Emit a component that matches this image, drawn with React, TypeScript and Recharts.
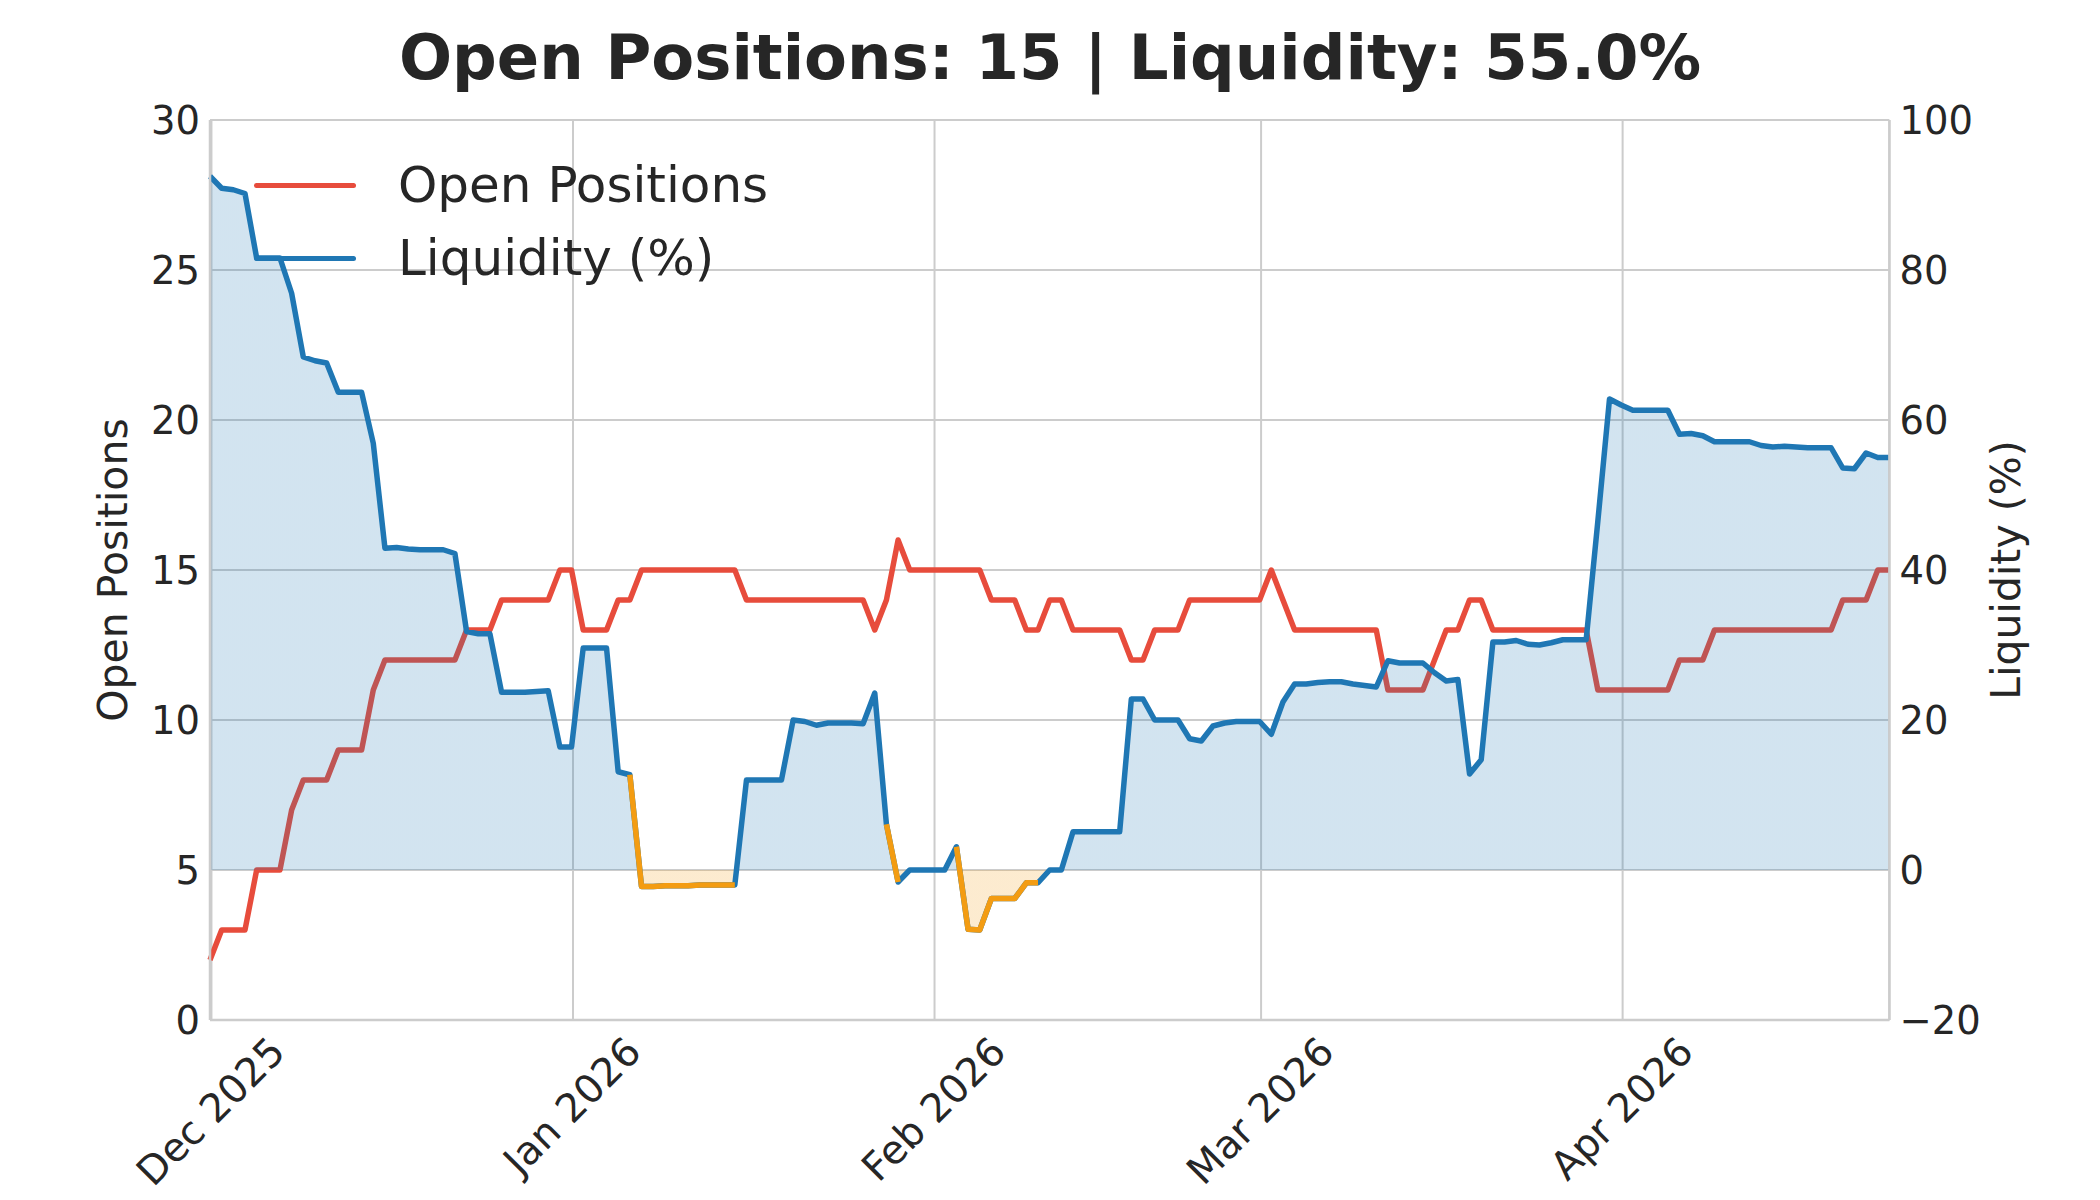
import React from 'react';
import { Area, CartesianGrid, ComposedChart, Legend, Line, XAxis, YAxis } from 'recharts';

const FONT = '"DejaVu Sans", "Liberation Sans", sans-serif';
const INK = '#262626';
const GRID = '#cccccc';
const RED = '#e74c3c';
const BLUE = '#1f77b4';
const ORANGE = '#f39c12';
const TICK_SIZE = 38.5;
const MONTH_TICK_SIZE = 39.5;

// one snapshot a day (21:00 UTC), 30 Nov 2025 -> 23 Apr 2026
const FIRST_SNAPSHOT = Date.UTC(2025, 10, 30, 21);
const DAY_MS = 86400000;

const openPositions = [
  2, 3, 3, 3, 5, 5, 5, 7, 8, 8, 8, 9, 9, 9, 11, 12, 12, 12, 12, 12,
  12, 12, 13, 13, 13, 14, 14, 14, 14, 14, 15, 15, 13, 13, 13, 14, 14, 15, 15, 15,
  15, 15, 15, 15, 15, 15, 14, 14, 14, 14, 14, 14, 14, 14, 14, 14, 14, 13, 14, 16,
  15, 15, 15, 15, 15, 15, 15, 14, 14, 14, 13, 13, 14, 14, 13, 13, 13, 13, 13, 12,
  12, 13, 13, 13, 14, 14, 14, 14, 14, 14, 14, 15, 14, 13, 13, 13, 13, 13, 13, 13,
  13, 11, 11, 11, 11, 12, 13, 13, 14, 14, 13, 13, 13, 13, 13, 13, 13, 13, 13, 11,
  11, 11, 11, 11, 11, 11, 12, 12, 12, 13, 13, 13, 13, 13, 13, 13, 13, 13, 13, 13,
  14, 14, 14, 15, 15,
];

const liquidity = [
  92.5, 90.9, 90.7, 90.2, 81.6, 81.6, 81.6, 76.9, 68.4, 67.9, 67.6, 63.7, 63.7, 63.7, 56.9, 42.9, 43.0, 42.8, 42.7, 42.7,
  42.7, 42.2, 31.8, 31.5, 31.5, 23.7, 23.7, 23.7, 23.8, 23.9, 16.4, 16.4, 29.6, 29.6, 29.6, 13.1, 12.7, -2.2, -2.2, -2.1,
  -2.1, -2.1, -2.0, -2.0, -2.0, -2.0, 12.0, 12.0, 12.0, 12.0, 20.0, 19.8, 19.3, 19.6, 19.6, 19.6, 19.5, 23.6, 6.1, -1.6,
  0.0, 0.0, 0.0, 0.0, 3.1, -7.9, -8.0, -3.8, -3.8, -3.8, -1.7, -1.7, 0.0, 0.0, 5.1, 5.1, 5.1, 5.1, 5.1, 22.8,
  22.8, 20.0, 20.0, 20.0, 17.5, 17.2, 19.2, 19.6, 19.8, 19.8, 19.8, 18.1, 22.4, 24.8, 24.8, 25.0, 25.1, 25.1, 24.8, 24.6,
  24.4, 27.9, 27.6, 27.6, 27.6, 26.3, 25.2, 25.4, 12.8, 14.7, 30.4, 30.4, 30.6, 30.1, 30.0, 30.3, 30.7, 30.7, 30.7, 46.5,
  62.8, 62.0, 61.3, 61.3, 61.3, 61.3, 58.1, 58.2, 57.9, 57.1, 57.1, 57.1, 57.1, 56.6, 56.4, 56.5, 56.4, 56.3, 56.3, 56.3,
  53.6, 53.5, 55.6, 55.0, 55.0,
];

const monthTicks = [
  Date.UTC(2025, 11, 1),
  Date.UTC(2026, 0, 1),
  Date.UTC(2026, 1, 1),
  Date.UTC(2026, 2, 1),
  Date.UTC(2026, 3, 1),
];
const monthLabels = ['Dec 2025', 'Jan 2026', 'Feb 2026', 'Mar 2026', 'Apr 2026'];
const positionTicks = [0, 5, 10, 15, 20, 25, 30];
const liquidityTicks = [-20, 0, 20, 40, 60, 80, 100];
const legendOrder = ['Open Positions', 'Liquidity (%)'];

// a segment is drawn orange when the day it ends on is below zero
const data = liquidity.map((liq, i) => ({
  t: FIRST_SNAPSHOT + i * DAY_MS,
  positions: openPositions[i],
  liquidity: liq,
  shortfall: liq < 0 || (liquidity[i + 1] ?? 0) < 0 ? liq : null,
}));

const liqMax = Math.max(...liquidity);
const liqMin = Math.min(...liquidity, 0);
const zeroOffset = liqMax / (liqMax - liqMin);

const lastPositions = openPositions[openPositions.length - 1];
const lastLiquidity = liquidity[liquidity.length - 1];

const fmtSigned = (v: number) => (v < 0 ? `\u2212${Math.abs(v)}` : `${v}`);

let measureCtx: CanvasRenderingContext2D | null = null;
function textWidth(s: string, size: number) {
  if (!measureCtx) measureCtx = document.createElement('canvas').getContext('2d');
  if (!measureCtx) return s.length * size * 0.6;
  measureCtx.font = `${size}px "DejaVu Sans"`;
  return measureCtx.measureText(s).width;
}

// matplotlib-style rotated label: the rotated box is centred under the tick
function MonthTick(props: any) {
  const { x, y, payload } = props;
  const idx = monthTicks.indexOf(payload.value);
  const label = idx >= 0 ? monthLabels[idx] : '';
  const w = textWidth(label, MONTH_TICK_SIZE);
  const half = ((w + 32) * Math.SQRT1_2) / 2;
  return (
    <text
      transform={`translate(${x - 1},${y + 13 + half}) rotate(-45)`}
      textAnchor="middle"
      dy="0.35em"
      fontSize={MONTH_TICK_SIZE}
      fontFamily={FONT}
      fill={INK}
    >
      {label}
    </text>
  );
}

const axisTitle = (offset: number) => (props: any) => {
  const { viewBox, value } = props;
  const cx = viewBox.x + offset;
  const cy = viewBox.y + viewBox.height / 2;
  return (
    <text
      x={cx}
      y={cy}
      transform={`rotate(-90, ${cx}, ${cy})`}
      textAnchor="middle"
      fontSize={41}
      fontFamily={FONT}
      fill={INK}
    >
      {value}
    </text>
  );
};

function LegendBox({ payload }: any) {
  const items = (payload || [])
    .filter((p: any) => p.type !== 'none' && legendOrder.includes(p.value))
    .sort((a: any, b: any) => legendOrder.indexOf(a.value) - legendOrder.indexOf(b.value));
  return (
    <div style={{ fontFamily: FONT, color: INK }}>
      {items.map((p: any) => (
        <div key={p.value} style={{ display: 'flex', alignItems: 'center', height: 73 }}>
          <div style={{ width: 102, height: 5.5, borderRadius: 2.75, background: p.color, marginRight: 42 }} />
          <span style={{ fontSize: 50, lineHeight: '73px', whiteSpace: 'nowrap' }}>{p.value}</span>
        </div>
      ))}
    </div>
  );
}

export default function App() {
  return (
    <div style={{ position: 'absolute', left: 0, top: 0, width: 2100, height: 1200, background: '#fff' }}>
      <svg width={2100} height={110} style={{ position: 'absolute', left: 0, top: 0 }}>
        <text x={1050} y={78.5} textAnchor="middle" fontSize={62.5} fontWeight="bold" fontFamily={FONT} fill={INK}>
          {`Open Positions: ${lastPositions} | Liquidity: ${lastLiquidity.toFixed(1)}%`}
        </text>
      </svg>
      <ComposedChart width={2100} height={1200} data={data} margin={{ top: 120, right: 0, bottom: 0, left: 0 }}>
        <defs>
          <linearGradient id="liqFill" x1="0" y1="0" x2="0" y2="1">
            <stop offset={zeroOffset} stopColor={BLUE} stopOpacity={0.2} />
            <stop offset={zeroOffset} stopColor={ORANGE} stopOpacity={0.2} />
          </linearGradient>
        </defs>
        <CartesianGrid yAxisId="left" stroke={GRID} strokeWidth={2} />
        <XAxis
          dataKey="t"
          type="number"
          domain={['dataMin', 'dataMax']}
          ticks={monthTicks}
          interval={0}
          height={180}
          tick={<MonthTick />}
          tickSize={0}
          tickMargin={0}
          tickLine={false}
          axisLine={{ stroke: GRID, strokeWidth: 2.5 }}
        />
        <XAxis
          xAxisId="top"
          orientation="top"
          dataKey="t"
          type="number"
          domain={['dataMin', 'dataMax']}
          height={0}
          tick={false}
          tickLine={false}
          axisLine={{ stroke: GRID, strokeWidth: 2.5 }}
        />
        <YAxis
          yAxisId="left"
          orientation="left"
          width={210}
          domain={[0, 30]}
          ticks={positionTicks}
          interval={0}
          tickSize={0}
          tickMargin={10}
          tickLine={false}
          axisLine={{ stroke: GRID, strokeWidth: 2.5 }}
          tick={{ fontSize: TICK_SIZE, fill: INK, fontFamily: FONT }}
          label={{ value: 'Open Positions', content: axisTitle(127) }}
        />
        <YAxis
          yAxisId="right"
          orientation="right"
          width={210.6}
          domain={[-20, 100]}
          ticks={liquidityTicks}
          interval={0}
          tickSize={0}
          tickMargin={10}
          tickLine={false}
          axisLine={{ stroke: GRID, strokeWidth: 2.5 }}
          tickFormatter={fmtSigned}
          tick={{ fontSize: TICK_SIZE, fill: INK, fontFamily: FONT }}
          label={{ value: 'Liquidity (%)', content: axisTitle(130.6) }}
        />
        <Line
          yAxisId="left"
          dataKey="positions"
          name="Open Positions"
          stroke={RED}
          strokeWidth={5.5}
          strokeLinejoin="round"
          dot={false}
          activeDot={false}
          isAnimationActive={false}
          zIndex={50}
        />
        <Area
          yAxisId="right"
          dataKey="liquidity"
          baseValue={0}
          stroke="none"
          fill="url(#liqFill)"
          fillOpacity={1}
          legendType="none"
          dot={false}
          activeDot={false}
          isAnimationActive={false}
          zIndex={100}
        />
        <Line
          yAxisId="right"
          dataKey="liquidity"
          name="Liquidity (%)"
          stroke={BLUE}
          strokeWidth={5.5}
          strokeLinejoin="round"
          dot={false}
          activeDot={false}
          isAnimationActive={false}
          zIndex={400}
        />
        <Line
          yAxisId="right"
          dataKey="shortfall"
          stroke={ORANGE}
          strokeWidth={5.5}
          strokeLinejoin="round"
          connectNulls={false}
          legendType="none"
          dot={false}
          activeDot={false}
          isAnimationActive={false}
          zIndex={410}
        />
        <Legend
          layout="horizontal"
          verticalAlign="middle"
          align="center"
          wrapperStyle={{ left: 254, top: 149, width: 'auto', height: 'auto' }}
          content={<LegendBox />}
        />
      </ComposedChart>
    </div>
  );
}
